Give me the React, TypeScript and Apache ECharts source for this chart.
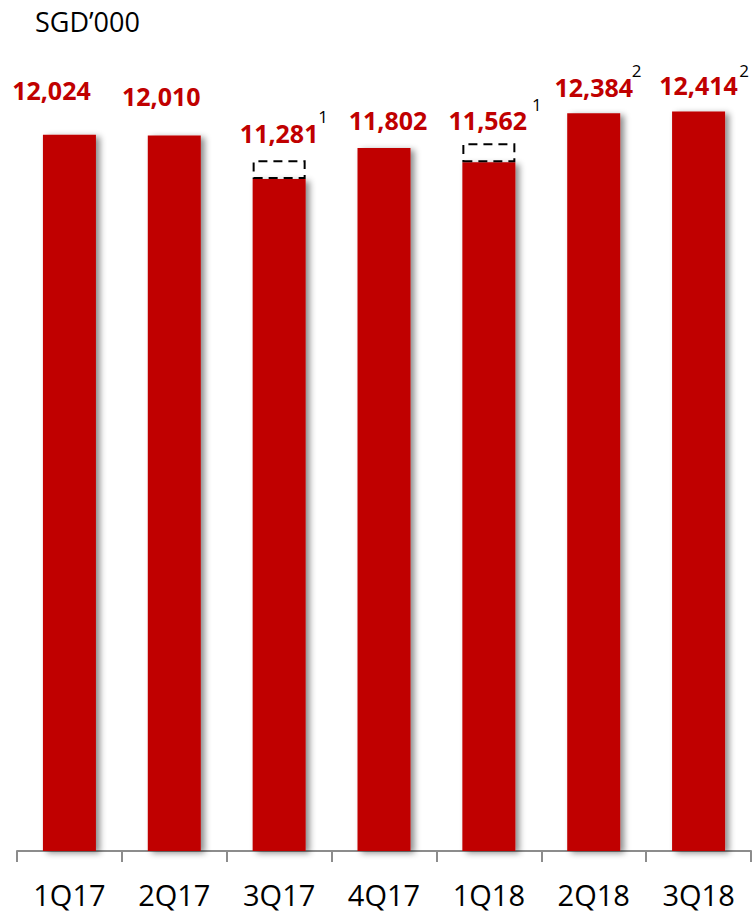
import React, { useEffect, useRef } from "react";
import * as echarts from "echarts";

const categories = ["1Q17", "2Q17", "3Q17", "4Q17", "1Q18", "2Q18", "3Q18"];
const revenue = [12024, 12010, 11281, 11802, 11562, 12384, 12414];
// dashed outline segments stacked on top of 3Q17 and 1Q18
const adjustment = [null, null, 315, null, 320, null, null];
const footnotes = ["", "", "1", "", "1", "2", "2"];
const unitLabel = "SGD\u2019000";

// layout tweaks (label nudges relative to bar top)
const labelOffsets: number[][] = [
  [-18, -27],
  [-13, -22],
  [0, -28],
  [4, -10],
  [-1, -25],
  [0, -9],
  [0, -9],
];
const footnoteOffsets: number[][] = [
  [0, 0],
  [0, 0],
  [44, -62],
  [0, 0],
  [48, -57.5],
  [43, -43],
  [45.5, -41],
];

const FONT = "'Open Sans', 'Noto Sans', sans-serif";
const RED = "#C00000";

const fmt = (v: number) => v.toLocaleString("en-US");

export default function App() {
  const ref = useRef<HTMLDivElement>(null);
  useEffect(() => {
    if (!ref.current) return;
    const chart = echarts.init(ref.current, null, { renderer: "svg" });
    const option: any = {
      animation: false,
      title: {
        text: unitLabel,
        left: 30,
        top: 3,
        textStyle: { fontFamily: FONT, fontSize: 27, fontWeight: "normal", color: "#000" },
      },
      grid: { left: 17, right: 2, top: 17, bottom: 63, containLabel: false },
      xAxis: {
        type: "category",
        data: categories,
        boundaryGap: true,
        axisLine: { show: true, lineStyle: { color: "#8c8c8c", width: 2 } },
        axisTick: { show: true, length: 11, interval: 0, lineStyle: { color: "#8c8c8c", width: 2 } },
        axisLabel: { fontFamily: FONT, fontSize: 29, color: "#000", margin: 29, interval: 0 },
      },
      yAxis: {
        type: "value",
        min: 0,
        max: 14000,
        show: false,
        splitLine: { show: false },
      },
      series: [
        {
          type: "bar",
          stack: "total",
          barWidth: 53,
          data: revenue.map((v, i) => ({
            value: v,
            label: { offset: labelOffsets[i] },
          })),
          itemStyle: {
            color: RED,
            shadowColor: "rgba(0,0,0,0.45)",
            shadowBlur: 6,
            shadowOffsetX: 4,
            shadowOffsetY: 2,
          },
          label: {
            show: true,
            position: "top",
            distance: 5,
            fontFamily: FONT,
            fontSize: 25,
            fontWeight: "bold",
            color: RED,
            formatter: (p: any) => fmt(p.value),
          },
          z: 2,
        },
        {
          type: "bar",
          stack: "total",
          barWidth: 53,
          data: adjustment.map((v) => (v == null ? "-" : v)),
          itemStyle: {
            color: "rgba(255,255,255,0)",
            borderColor: "#000",
            borderWidth: 2,
            borderType: [9, 6],
          },
          z: 3,
        },
      ],
    };
    chart.setOption(option);

    const graphics: any[] = [];
    footnotes.forEach((f, i) => {
      if (!f) return;
      const pt = chart.convertToPixel({ seriesIndex: 0 }, [i, revenue[i]]) as number[];
      graphics.push({
        type: "text",
        x: pt[0] + footnoteOffsets[i][0],
        y: pt[1] + footnoteOffsets[i][1],
        style: {
          text: f,
          fontFamily: FONT,
          fontSize: 17,
          fill: "#000",
          textAlign: "center",
          textVerticalAlign: "middle",
        },
      });
    });
    chart.setOption({ graphic: graphics });

    return () => chart.dispose();
  }, []);
  return (
    <div
      ref={ref}
      style={{ position: "absolute", left: 0, top: 0, width: 753, height: 914 }}
    />
  );
}
